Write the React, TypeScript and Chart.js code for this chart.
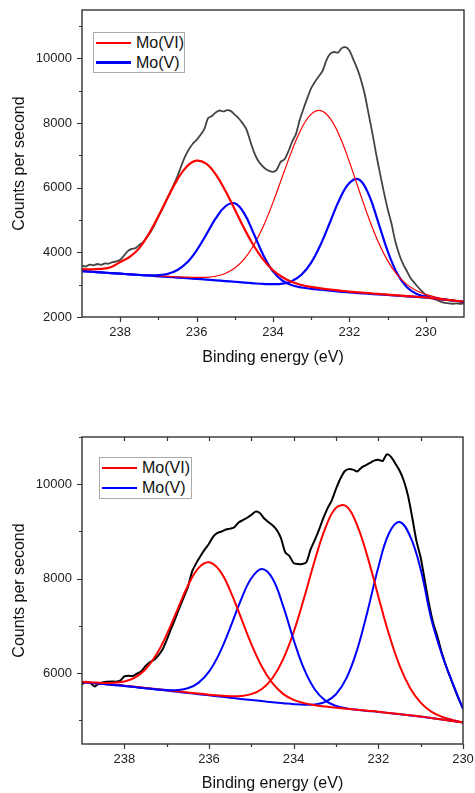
import React, { useEffect, useRef } from "react";
import { Chart, registerables } from "chart.js";

Chart.register(...registerables);

// ---------- shared text ----------
const xTitle = "Binding energy (eV)";
const yTitle = "Counts per second";
const legendLabels = ["Mo(VI)", "Mo(V)"];

// ---------- top panel ----------
const energiesTop = [239, 238.75, 238.5, 238.25, 238, 237.75, 237.5, 237.25, 237, 236.75, 236.5, 236.25, 236, 235.75, 235.5, 235.25, 235, 234.75, 234.5, 234.25, 234, 233.75, 233.5, 233.25, 233, 232.75, 232.5, 232.25, 232, 231.75, 231.5, 231.25, 231, 230.75, 230.5, 230.25, 230, 229.75, 229.5, 229.25, 229];
const mo6aTop = [3480, 3475, 3490, 3540, 3700, 3860, 4132, 4572, 5116, 5709, 6261, 6667, 6839, 6743, 6415, 5914, 5325, 4730, 4198, 3767, 3446, 3230, 3080, 2990, 2930, 2888, 2850, 2818, 2785, 2762, 2738, 2715, 2692, 2670, 2648, 2626, 2605, 2572, 2538, 2505, 2472];
const mo5aTop = [3420, 3400, 3380, 3360, 3340, 3321, 3303, 3292, 3297, 3339, 3455, 3686, 4059, 4546, 5049, 5419, 5518, 5199, 4568, 3904, 3410, 3122, 2981, 2913, 2873, 2843, 2815, 2788, 2760, 2740, 2720, 2700, 2680, 2660, 2640, 2620, 2600, 2568, 2535, 2503, 2470];
const mo6bTop = [3420, 3400, 3380, 3360, 3345, 3326, 3308, 3290, 3274, 3258, 3245, 3234, 3228, 3228, 3260, 3348, 3516, 3800, 4229, 4815, 5546, 6358, 7164, 7843, 8277, 8388, 8138, 7579, 6800, 5932, 5083, 4339, 3746, 3309, 3010, 2818, 2699, 2615, 2555, 2511, 2473];
const mo5bTop = [3420, 3400, 3380, 3360, 3340, 3320, 3300, 3280, 3260, 3240, 3220, 3200, 3180, 3158, 3135, 3113, 3090, 3065, 3042, 3023, 3015, 3033, 3115, 3313, 3682, 4248, 4956, 5659, 6149, 6257, 5808, 4952, 4043, 3346, 2927, 2719, 2629, 2575, 2537, 2503, 2470];
const measuredTop: [number, number][] = [
  [239.0, 3590], [238.9, 3560], [238.8, 3620], [238.7, 3600], [238.6, 3640], [238.5, 3615], [238.4, 3660], [238.3, 3650], [238.2, 3700], [238.1, 3720],
  [238.0, 3770], [237.9, 3900], [237.8, 4040], [237.7, 4110], [237.6, 4130], [237.5, 4230], [237.4, 4320], [237.3, 4480], [237.2, 4640], [237.1, 4850],
  [237.0, 5110], [236.9, 5340], [236.8, 5590], [236.7, 5840], [236.6, 6090], [236.5, 6360], [236.4, 6680], [236.3, 6970], [236.2, 7190], [236.1, 7360],
  [236.0, 7480], [235.9, 7630], [235.8, 7810], [235.7, 8150], [235.6, 8220], [235.5, 8330], [235.4, 8390], [235.3, 8360], [235.2, 8400], [235.1, 8370],
  [235.0, 8260], [234.9, 8150], [234.8, 8000], [234.7, 7820], [234.6, 7460], [234.5, 7110], [234.4, 6860], [234.3, 6700], [234.2, 6590], [234.1, 6520],
  [234.0, 6490], [233.9, 6560], [233.8, 6800], [233.7, 6880], [233.6, 7120], [233.5, 7420], [233.4, 7660], [233.3, 8100], [233.2, 8450], [233.1, 8780],
  [233.0, 9080], [232.9, 9280], [232.8, 9450], [232.7, 9620], [232.6, 9950], [232.5, 10150], [232.4, 10200], [232.3, 10180], [232.2, 10320], [232.1, 10350],
  [232.0, 10250], [231.9, 9980], [231.8, 9700], [231.7, 9350], [231.6, 8900], [231.5, 8300], [231.4, 7700], [231.3, 7050], [231.2, 6450], [231.1, 5880],
  [231.0, 5350], [230.9, 4900], [230.8, 4350], [230.7, 3950], [230.6, 3650], [230.5, 3430], [230.4, 3210], [230.3, 3060], [230.2, 2920], [230.1, 2790],
  [230.0, 2680], [229.9, 2610], [229.8, 2570], [229.7, 2520], [229.6, 2470], [229.5, 2440], [229.4, 2420], [229.3, 2410], [229.2, 2420], [229.1, 2410],
  [229.0, 2420],
];
const yMajorTop = [2000, 4000, 6000, 8000, 10000];
const yMinorTop = [3000, 5000, 7000, 9000, 11000];
const xMajorTop = [238, 236, 234, 232, 230];
const xMinorTop = [237, 235, 233, 231];

// ---------- bottom panel ----------
const energiesBottom = [239, 238.75, 238.5, 238.25, 238, 237.75, 237.5, 237.25, 237, 236.75, 236.5, 236.25, 236, 235.75, 235.5, 235.25, 235, 234.75, 234.5, 234.25, 234, 233.75, 233.5, 233.25, 233, 232.75, 232.5, 232.25, 232, 231.75, 231.5, 231.25, 231, 230.75, 230.5, 230.25, 230];
const mo6aBottom = [5820, 5804, 5792, 5795, 5825, 5904, 6082, 6383, 6815, 7336, 7849, 8224, 8347, 8174, 7749, 7186, 6615, 6136, 5787, 5562, 5435, 5365, 5322, 5294, 5270, 5248, 5226, 5205, 5184, 5158, 5133, 5107, 5082, 5051, 5021, 4989, 4956];
const mo5aBottom = [5810, 5790, 5770, 5750, 5730, 5705, 5681, 5658, 5642, 5642, 5680, 5794, 6031, 6424, 6958, 7540, 8009, 8205, 8003, 7423, 6703, 6078, 5654, 5419, 5306, 5253, 5223, 5200, 5180, 5155, 5130, 5105, 5080, 5050, 5020, 4988, 4955];
const mo6bBottom = [5813, 5793, 5774, 5755, 5736, 5712, 5688, 5664, 5640, 5616, 5592, 5568, 5545, 5525, 5510, 5515, 5555, 5664, 5898, 6293, 6871, 7604, 8391, 9075, 9500, 9530, 9127, 8446, 7625, 6826, 6165, 5687, 5377, 5187, 5078, 5010, 4963];
const mo5bBottom = [5810, 5790, 5770, 5750, 5730, 5705, 5680, 5655, 5630, 5605, 5580, 5555, 5530, 5505, 5480, 5455, 5430, 5408, 5385, 5364, 5343, 5331, 5338, 5393, 5554, 5899, 6496, 7329, 8243, 8956, 9200, 8900, 8200, 7150, 6400, 5800, 5240];
const measuredBottom: [number, number][] = [
  [239.0, 5760], [238.9, 5820], [238.8, 5790], [238.7, 5720], [238.6, 5780], [238.5, 5810], [238.4, 5820], [238.3, 5825], [238.2, 5820], [238.1, 5840],
  [238.0, 5930], [237.9, 5945], [237.8, 5940], [237.7, 5990], [237.6, 6040], [237.5, 6150], [237.4, 6230], [237.3, 6280], [237.2, 6370], [237.1, 6500],
  [237.0, 6700], [236.9, 6930], [236.8, 7150], [236.7, 7380], [236.6, 7600], [236.5, 7820], [236.4, 8150], [236.3, 8330], [236.2, 8480], [236.1, 8620],
  [236.0, 8740], [235.9, 8890], [235.8, 8970], [235.7, 9000], [235.6, 9040], [235.5, 9060], [235.4, 9090], [235.3, 9190], [235.2, 9240], [235.1, 9290],
  [235.0, 9350], [234.9, 9420], [234.8, 9390], [234.7, 9280], [234.6, 9200], [234.5, 9130], [234.4, 9030], [234.3, 8860], [234.2, 8560], [234.1, 8480],
  [234.0, 8330], [233.9, 8310], [233.8, 8310], [233.7, 8350], [233.6, 8620], [233.5, 8820], [233.4, 9040], [233.3, 9280], [233.2, 9490], [233.1, 9660],
  [233.0, 9900], [232.9, 10110], [232.8, 10270], [232.7, 10320], [232.6, 10310], [232.5, 10270], [232.4, 10350], [232.3, 10400], [232.2, 10450], [232.1, 10500],
  [232.0, 10520], [231.9, 10490], [231.8, 10630], [231.7, 10580], [231.6, 10440], [231.5, 10290], [231.4, 10080], [231.3, 9760], [231.2, 9300], [231.1, 8800],
  [231.0, 8450], [230.9, 7950], [230.8, 7450], [230.7, 7050], [230.6, 6760], [230.5, 6430], [230.4, 6150], [230.3, 5910], [230.2, 5680], [230.1, 5450],
  [230.0, 5260],
];
const yMajorBottom = [6000, 8000, 10000];
const yMinorBottom = [5000, 7000, 9000, 11000];
const xMajorBottom = [238, 236, 234, 232, 230];
const xMinorBottom = [237, 235, 233, 231];
const xTopTicksBottom = [238, 237, 236, 235, 234, 233, 232, 231];

const FONT = "'Liberation Sans', Arial, Helvetica, sans-serif";
const RED = "#ff0000";
const BLUE = "#0000ff";

const framePlugin = {
  id: "frameTicks",
  afterDraw(chart: any, _args: any, opts: any) {
    const { ctx, chartArea, scales } = chart;
    const { left, right, top, bottom } = chartArea;
    const xs = scales.x;
    const ys = scales.y;
    ctx.save();
    ctx.strokeStyle = opts.color;
    ctx.lineWidth = 1.4;
    ctx.strokeRect(left, top, right - left, bottom - top);
    ctx.lineWidth = 1.2;
    ctx.beginPath();
    for (const v of opts.yMajor) {
      const p = Math.round(ys.getPixelForValue(v)) + 0.5;
      ctx.moveTo(left, p);
      ctx.lineTo(left - 5, p);
    }
    for (const v of opts.yMinor) {
      const p = Math.round(ys.getPixelForValue(v)) + 0.5;
      ctx.moveTo(left, p);
      ctx.lineTo(left - 3, p);
    }
    for (const v of opts.xMajor) {
      const p = Math.round(xs.getPixelForValue(v)) + 0.5;
      ctx.moveTo(p, bottom);
      ctx.lineTo(p, bottom + 5);
    }
    for (const v of opts.xMinor) {
      const p = Math.round(xs.getPixelForValue(v)) + 0.5;
      ctx.moveTo(p, bottom);
      ctx.lineTo(p, bottom + 3);
    }
    for (const v of opts.xTop || []) {
      const p = Math.round(xs.getPixelForValue(v)) + 0.5;
      ctx.moveTo(p, top);
      ctx.lineTo(p, top + 4);
    }
    ctx.stroke();
    ctx.restore();
  },
};

function line(energies: number[], values: number[], color: string, width: number, label: string) {
  return {
    label,
    data: energies.map((e, i) => ({ x: e, y: values[i] })),
    borderColor: color,
    borderWidth: width,
    pointRadius: 0,
    tension: 0.4,
    fill: false,
  };
}

function measured(points: [number, number][], color: string, width: number) {
  return {
    label: "Measured",
    data: points.map(([e, v]) => ({ x: e, y: v })),
    borderColor: color,
    borderWidth: width,
    pointRadius: 0,
    tension: 0.25,
    fill: false,
  };
}

function makeConfig(p: any) {
  return {
    type: "line",
    data: { datasets: p.datasets },
    plugins: [framePlugin],
    options: {
      animation: false,
      responsive: false,
      maintainAspectRatio: false,
      events: [],
      layout: { padding: p.padding },
      plugins: {
        legend: { display: false },
        tooltip: { enabled: false },
        frameTicks: {
          color: "#333333",
          yMajor: p.yMajor,
          yMinor: p.yMinor,
          xMajor: p.xMajor,
          xMinor: p.xMinor,
          xTop: p.xTop,
        },
      },
      scales: {
        x: {
          type: "linear",
          reverse: true,
          min: p.xMin,
          max: p.xMax,
          afterBuildTicks: (s: any) => {
            s.ticks = p.xMajor.map((v: number) => ({ value: v }));
          },
          afterFit: (s: any) => {
            s.height = p.xHeight;
            s.paddingLeft = 0;
            s.paddingRight = 0;
          },
          grid: { display: false, drawTicks: false },
          border: { display: false },
          ticks: {
            padding: 8,
            autoSkip: false,
            maxRotation: 0,
            color: "#222222",
            font: { family: FONT, size: 13 },
            callback: (v: any) => String(v),
          },
          title: {
            display: true,
            text: xTitle,
            color: "#111111",
            font: { family: FONT, size: 16 },
            padding: { top: 0, bottom: p.xTitlePad },
          },
        },
        y: {
          type: "linear",
          min: p.yMin,
          max: p.yMax,
          afterBuildTicks: (s: any) => {
            s.ticks = p.yMajor.map((v: number) => ({ value: v }));
          },
          afterFit: (s: any) => {
            s.width = 82;
            s.paddingTop = 0;
            s.paddingBottom = 0;
          },
          grid: { display: false, drawTicks: false },
          border: { display: false },
          ticks: {
            padding: 10,
            autoSkip: false,
            color: "#222222",
            font: { family: FONT, size: 13 },
            callback: (v: any) => String(v),
          },
          title: {
            display: true,
            text: yTitle,
            color: "#111111",
            font: { family: FONT, size: 16 },
            padding: { top: 10, bottom: 0 },
          },
        },
      },
    },
  };
}

function Legend(props: { left: number; top: number; width: number; height: number; w6: number; w5: number }) {
  const { left, top, width, height, w6, w5 } = props;
  const text: React.CSSProperties = {
    position: "absolute",
    left: 42,
    fontFamily: FONT,
    fontSize: 16,
    lineHeight: "20px",
    color: "#111",
    whiteSpace: "nowrap",
  };
  return (
    <div
      style={{
        position: "absolute",
        left,
        top,
        width,
        height,
        border: "1px solid #aaaaaa",
        boxSizing: "border-box",
        background: "#fff",
      }}
    >
      <div style={{ position: "absolute", left: 2, top: 10 - w6 / 2, width: 35, height: w6, background: RED }} />
      <div style={{ ...text, top: 0 }}>{legendLabels[0]}</div>
      <div style={{ position: "absolute", left: 2, top: 29.5 - w5 / 2, width: 35, height: w5, background: BLUE }} />
      <div style={{ ...text, top: 19.5 }}>{legendLabels[1]}</div>
    </div>
  );
}

function Panel(props: { top: number; height: number; config: any }) {
  const ref = useRef<HTMLCanvasElement | null>(null);
  useEffect(() => {
    if (!ref.current) return;
    const chart = new Chart(ref.current, props.config);
    return () => chart.destroy();
  }, []);
  return (
    <canvas
      ref={ref}
      width={475}
      height={props.height}
      style={{ position: "absolute", left: 0, top: props.top, width: 475, height: props.height, display: "block" }}
    />
  );
}

export default function App() {
  const topConfig = makeConfig({
    datasets: [
      line(energiesTop, mo6aTop, RED, 2.2, "Mo(VI) a"),
      line(energiesTop, mo5aTop, BLUE, 2.2, "Mo(V) a"),
      line(energiesTop, mo6bTop, RED, 1.2, "Mo(VI) b"),
      line(energiesTop, mo5bTop, BLUE, 2.2, "Mo(V) b"),
      measured(measuredTop, "#444444", 1.8),
    ],
    padding: { top: 10, right: 11, left: 0, bottom: 0 },
    xHeight: 78,
    xTitlePad: 28,
    xMin: 229,
    xMax: 239,
    yMin: 2000,
    yMax: 11500,
    yMajor: yMajorTop,
    yMinor: yMinorTop,
    xMajor: xMajorTop,
    xMinor: xMinorTop,
    xTop: [],
  });
  const bottomConfig = makeConfig({
    datasets: [
      line(energiesBottom, mo6aBottom, RED, 2, "Mo(VI) a"),
      line(energiesBottom, mo5aBottom, BLUE, 2, "Mo(V) a"),
      line(energiesBottom, mo6bBottom, RED, 2, "Mo(VI) b"),
      line(energiesBottom, mo5bBottom, BLUE, 2, "Mo(V) b"),
      measured(measuredBottom, "#000000", 2),
    ],
    padding: { top: 42, right: 12, left: 0, bottom: 0 },
    xHeight: 49,
    xTitlePad: 0,
    xMin: 230,
    xMax: 239,
    yMin: 4500,
    yMax: 11000,
    yMajor: yMajorBottom,
    yMinor: yMinorBottom,
    xMajor: xMajorBottom,
    xMinor: xMinorBottom,
    xTop: xTopTicksBottom,
  });
  return (
    <div style={{ position: "absolute", left: 0, top: 0, width: 475, height: 793, overflow: "hidden", background: "#fff" }}>
      <Panel top={0} height={395} config={topConfig} />
      <Panel top={395} height={398} config={bottomConfig} />
      <Legend left={93} top={32} width={92} height={41} w6={1.2} w5={2.5} />
      <Legend left={99} top={457} width={93} height={42} w6={2} w5={2} />
    </div>
  );
}
